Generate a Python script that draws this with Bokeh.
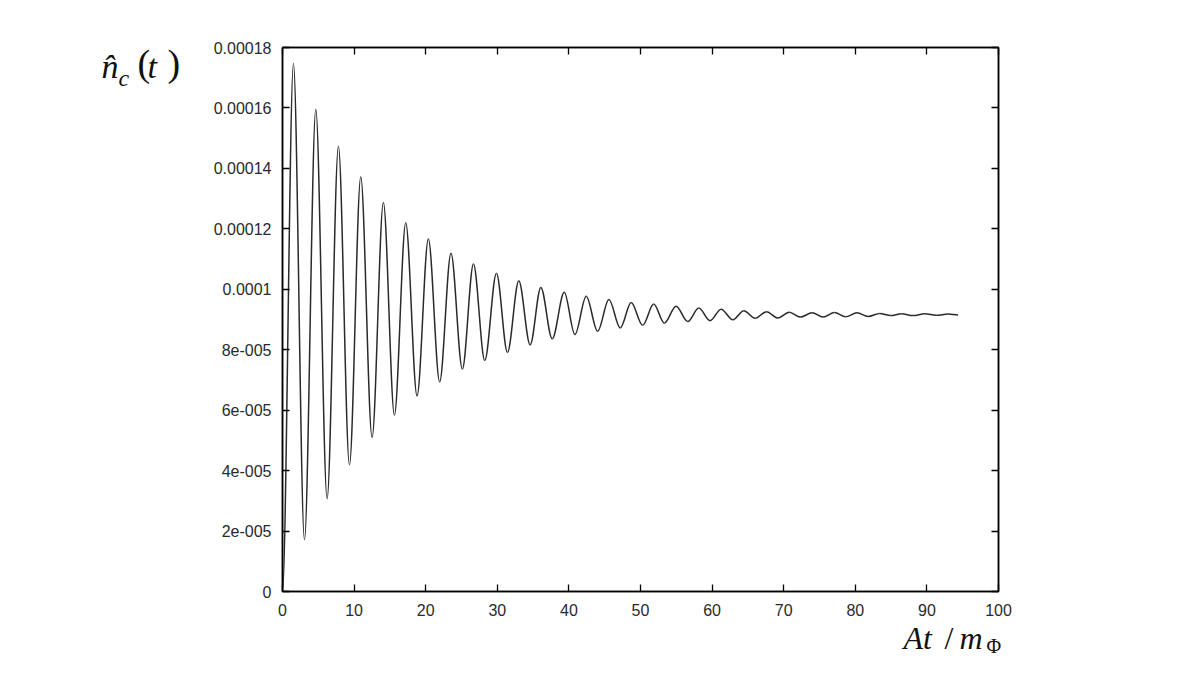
from bokeh.plotting import figure
from bokeh.models import (Range1d, FixedTicker, LinearAxis, Label, ColumnDataSource)
from bokeh.embed import file_html
from bokeh.resources import INLINE

# Extrema (and end points) of the oscillation: time A t / m_Phi
t_ext = [0.0, 1.53, 3.07, 4.65, 6.23, 7.81, 9.35, 10.93, 12.51, 14.09, 15.63,
         17.21, 18.79, 20.37, 21.95, 23.53, 25.12, 26.67, 28.25, 29.88, 31.42,
         33.00, 34.59, 36.08, 37.67, 39.35, 40.84, 42.42, 44.01, 45.59, 47.17,
         48.70, 50.30, 51.84, 53.33, 54.97, 56.60, 58.14, 59.72, 61.26, 62.90,
         64.43, 66.01, 67.60, 69.19, 70.77, 72.31, 73.97, 75.50, 77.10, 78.64,
         80.24, 81.78, 83.40, 84.94, 86.43, 88.07, 89.70, 91.30, 92.97, 94.36]
# n_c(t) at those times
n_ext = [0.0, 17.47e-5, 1.71e-5, 15.96e-5, 3.07e-5, 14.73e-5, 4.19e-5, 13.72e-5,
         5.10e-5, 12.87e-5, 5.84e-5, 12.20e-5, 6.47e-5, 11.66e-5, 6.94e-5,
         11.19e-5, 7.36e-5, 10.84e-5, 7.64e-5, 10.53e-5, 7.91e-5, 10.28e-5,
         8.16e-5, 10.06e-5, 8.36e-5, 9.90e-5, 8.50e-5, 9.77e-5, 8.61e-5,
         9.66e-5, 8.72e-5, 9.56e-5, 8.81e-5, 9.51e-5, 8.88e-5, 9.44e-5,
         8.93e-5, 9.38e-5, 8.96e-5, 9.34e-5, 8.99e-5, 9.29e-5, 9.04e-5,
         9.26e-5, 9.05e-5, 9.24e-5, 9.08e-5, 9.22e-5, 9.08e-5, 9.23e-5,
         9.09e-5, 9.22e-5, 9.10e-5, 9.20e-5, 9.13e-5, 9.19e-5, 9.13e-5,
         9.19e-5, 9.14e-5, 9.18e-5, 9.15e-5]

x_ticks = [0, 10, 20, 30, 40, 50, 60, 70, 80, 90, 100]
y_ticks = [0, 2e-5, 4e-5, 6e-5, 8e-5, 1e-4, 1.2e-4, 1.4e-4, 1.6e-4, 1.8e-4]
y_tick_labels = ["0", "2e-005", "4e-005", "6e-005", "8e-005", "0.0001",
                 "0.00012", "0.00014", "0.00016", "0.00018"]

# smooth half-wave segments between consecutive extrema (horizontal tangents)
x0 = t_ext[:-1]; x1 = t_ext[1:]
y0 = n_ext[:-1]; y1 = n_ext[1:]
cx0 = [a + (b - a) / 3.0 for a, b in zip(x0, x1)]
cx1 = [b - (b - a) / 3.0 for a, b in zip(x0, x1)]
src = ColumnDataSource(dict(x0=x0, y0=y0, x1=x1, y1=y1,
                            cx0=cx0, cy0=y0, cx1=cx1, cy1=y1))

W, H = 1180, 657
p = figure(width=W, height=H, output_backend="svg", toolbar_location=None,
           x_range=Range1d(0, 100), y_range=Range1d(0, 1.8e-4),
           min_border_left=282, min_border_right=182,
           min_border_top=47, min_border_bottom=66)
p.background_fill_color = "white"
p.border_fill_color = "white"
p.outline_line_color = "black"
p.outline_line_width = 1.5
p.grid.visible = False

p.bezier(x0="x0", y0="y0", x1="x1", y1="y1", cx0="cx0", cy0="cy0",
         cx1="cx1", cy1="cy1", source=src, line_color="#2a2a2a", line_width=1.5)

font = "Liberation Sans"
for ax in [p.xaxis[0], p.yaxis[0]]:
    ax.axis_line_color = "black"
    ax.axis_line_width = 1.5
    ax.major_tick_in = 7
    ax.major_tick_out = 0
    ax.minor_tick_line_color = None
    ax.major_tick_line_color = "black"
    ax.major_tick_line_width = 1.3
    ax.major_label_text_font = font
    ax.major_label_text_font_size = "16px"
    ax.major_label_text_color = "#2a2a2a"
p.xaxis[0].ticker = FixedTicker(ticks=x_ticks)
p.xaxis[0].major_label_standoff = 12
p.yaxis[0].ticker = FixedTicker(ticks=y_ticks)
p.yaxis[0].major_label_overrides = {v: s for v, s in zip(y_ticks, y_tick_labels)}
p.yaxis[0].major_label_standoff = 11

top = LinearAxis(ticker=FixedTicker(ticks=x_ticks))
right = LinearAxis(ticker=FixedTicker(ticks=y_ticks))
for ax in [top, right]:
    ax.axis_line_color = "black"
    ax.axis_line_width = 1.5
    ax.major_tick_in = 7
    ax.major_tick_out = 0
    ax.minor_tick_line_color = None
    ax.major_tick_line_width = 1.3
    ax.major_label_text_alpha = 0
    ax.major_label_text_color = None
    ax.major_label_standoff = 0
p.add_layout(top, "above")
p.add_layout(right, "right")

serif = "Liberation Serif"
XPX = 100.0 / 716.0      # data units per pixel, horizontal
YPX = 1.8e-4 / 544.0     # data units per pixel, vertical
def lab(text, sx, sy, size, style, side):
    p.add_layout(Label(x=sx * XPX, y=sy * YPX, x_units="data", y_units="data",
                       text=text, text_font=serif, text_font_size=size,
                       text_font_style=style, text_color="#111111",
                       text_baseline="alphabetic", text_align="left"), side)

# y-axis title  n̂_c (t)   (placed in the left side panel so it is not clipped)
lab("n\u0302", -181, 525, "34px", "italic", "left")
lab("c", -164, 514, "24px", "italic", "left")
lab("(", -145, 529, "38px", "normal", "left")
lab("t", -135, 525, "34px", "italic", "left")
lab(")", -115, 529, "38px", "normal", "left")
# x-axis title  At / m_Phi
lab("At", 621, -46, "32px", "italic", "right")
lab("/", 662, -46, "32px", "normal", "right")
lab("m", 677, -46, "32px", "italic", "right")
lab("\u03a6", 704, -54, "20px", "normal", "right")

open("out.html", "w").write(file_html(p, INLINE))
